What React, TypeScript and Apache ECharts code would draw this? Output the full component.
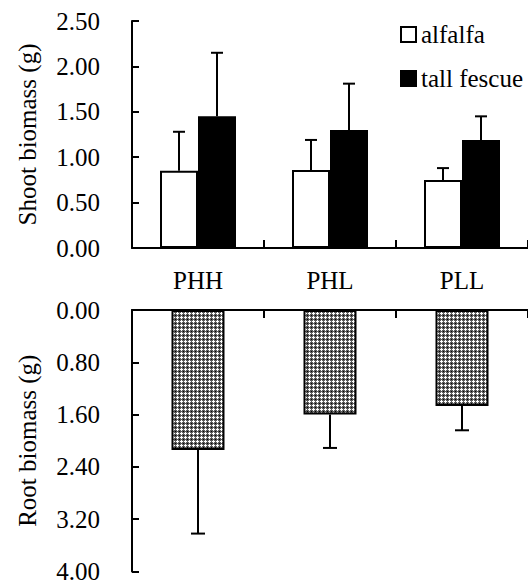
import React, { useEffect, useRef } from "react";
import * as echarts from "echarts";

const categories = ["PHH", "PHL", "PLL"];
const alfalfaShoot = [0.85, 0.86, 0.75];
const alfalfaShootErr = [0.43, 0.33, 0.13];
const fescueShoot = [1.45, 1.3, 1.19];
const fescueShootErr = [0.7, 0.51, 0.26];
const rootBiomass = [2.14, 1.6, 1.47];
const rootErr = [1.28, 0.51, 0.37];

const FONT = "Liberation Serif";
const FS = 25;
const BAR_W = 38;

function makePattern(): HTMLCanvasElement {
  const c = document.createElement("canvas");
  c.width = 4;
  c.height = 4;
  const ctx = c.getContext("2d")!;
  ctx.fillStyle = "#5a5a5a";
  ctx.fillRect(0, 0, 4, 4);
  ctx.fillStyle = "#ffffff";
  [[1, 0], [0, 1], [1, 1], [2, 1], [1, 2]].forEach(([x, y]) => ctx.fillRect(x, y, 1, 1));
  ctx.fillStyle = "#000000";
  ctx.fillRect(3, 3, 1, 1);
  return c;
}

function errSeries(name: string, means: number[], errs: number[], axisIdx: number, offset: number, cap: number) {
  return {
    name,
    type: "custom",
    xAxisIndex: axisIdx,
    yAxisIndex: axisIdx,
    z: 5,
    data: means.map((m, i) => [i, m, m + errs[i]]),
    renderItem: (_p: any, api: any) => {
      const i = api.value(0);
      const p0 = api.coord([i, api.value(1)]);
      const p1 = api.coord([i, api.value(2)]);
      const cx = p0[0] + offset;
      const style = { stroke: "#000", lineWidth: 2 };
      return {
        type: "group",
        children: [
          { type: "line", shape: { x1: cx, y1: p0[1], x2: cx, y2: p1[1] }, style },
          { type: "line", shape: { x1: cx - cap / 2, y1: p1[1], x2: cx + cap / 2, y2: p1[1] }, style },
        ],
      };
    },
  };
}

export default function App() {
  const ref = useRef<HTMLDivElement>(null);
  useEffect(() => {
    if (!ref.current) return;
    const chart = echarts.init(ref.current, undefined, { renderer: "svg" });
    const axisLine = { show: true, lineStyle: { color: "#000", width: 2 } };
    const mkYLabel = () => ({
      fontFamily: FONT,
      fontSize: FS,
      color: "#000",
      margin: 32,
      formatter: (v: number) => v.toFixed(2),
    });
    const mkName = () => ({ fontFamily: FONT, fontSize: FS, color: "#000" });
    chart.setOption({
      animation: false,
      backgroundColor: "#fff",
      textStyle: { fontFamily: FONT },
      legend: {
        data: ["alfalfa", "tall fescue"],
        orient: "vertical",
        left: 395,
        top: 17,
        itemWidth: 15,
        itemHeight: 15,
        itemGap: 19,
        itemTextGap: 6,
        icon: "rect",
        textStyle: { fontFamily: FONT, fontSize: 25, color: "#000" },
      },
      grid: [
        { left: 132, top: 21, width: 400, height: 227 },
        { left: 132, top: 310, width: 400, height: 263 },
      ],
      xAxis: [
        {
          type: "category",
          gridIndex: 0,
          data: categories,
          axisLine,
          axisTick: { show: true, inside: true, length: 8, lineStyle: { color: "#000", width: 2 } },
          axisLabel: { fontFamily: FONT, fontSize: FS, color: "#000", margin: 20 },
          splitLine: { show: false },
        },
        {
          type: "category",
          gridIndex: 1,
          position: "top",
          data: categories,
          axisLine,
          axisTick: { show: true, inside: true, length: 8, lineStyle: { color: "#000", width: 2 } },
          axisLabel: { show: false },
          splitLine: { show: false },
        },
      ],
      yAxis: [
        {
          type: "value",
          gridIndex: 0,
          min: 0,
          max: 2.5,
          interval: 0.5,
          axisLine,
          axisTick: { show: true, inside: true, length: 7, lineStyle: { color: "#000", width: 2 } },
          axisLabel: mkYLabel(),
          splitLine: { show: false },
          name: "Shoot biomass (g)",
          nameLocation: "middle",
          nameRotate: 90,
          nameGap: 92,
          nameTextStyle: mkName(),
        },
        {
          type: "value",
          gridIndex: 1,
          min: 0,
          max: 4,
          interval: 0.8,
          inverse: true,
          axisLine,
          axisTick: { show: true, inside: true, length: 7, lineStyle: { color: "#000", width: 2 } },
          axisLabel: mkYLabel(),
          splitLine: { show: false },
          name: "Root biomass (g)",
          nameLocation: "middle",
          nameRotate: 90,
          nameGap: 92,
          nameTextStyle: mkName(),
        },
      ],
      series: [
        {
          name: "alfalfa",
          type: "bar",
          xAxisIndex: 0,
          yAxisIndex: 0,
          barWidth: BAR_W,
          barGap: "0%",
          data: alfalfaShoot,
          itemStyle: { color: "#fff", borderColor: "#000", borderWidth: 2 },
        },
        {
          name: "tall fescue",
          type: "bar",
          xAxisIndex: 0,
          yAxisIndex: 0,
          barWidth: BAR_W,
          barGap: "0%",
          data: fescueShoot,
          itemStyle: { color: "#000", borderColor: "#000", borderWidth: 2 },
        },
        {
          name: "root",
          type: "bar",
          xAxisIndex: 1,
          yAxisIndex: 1,
          barWidth: 53,
          data: rootBiomass,
          itemStyle: {
            color: { image: makePattern(), repeat: "repeat" },
            borderColor: "#000",
            borderWidth: 2,
          },
        },
        errSeries("alfalfa err", alfalfaShoot, alfalfaShootErr, 0, -BAR_W / 2, 12),
        errSeries("fescue err", fescueShoot, fescueShootErr, 0, BAR_W / 2, 12),
        errSeries("root err", rootBiomass, rootErr, 1, 0, 14),
      ],
    });
    return () => chart.dispose();
  }, []);
  return (
    <div
      ref={ref}
      style={{ position: "fixed", left: 0, top: 0, width: 528, height: 584, background: "#fff" }}
    />
  );
}
